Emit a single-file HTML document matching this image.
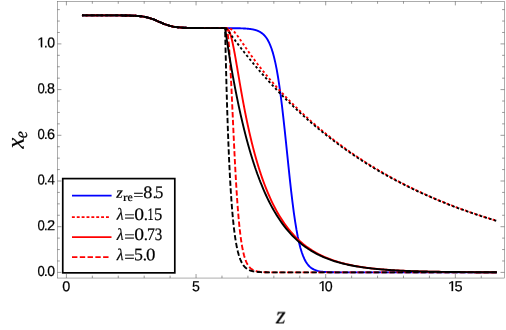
<!DOCTYPE html>
<html><head><meta charset="utf-8"><title>xe(z)</title>
<style>
html,body{margin:0;padding:0;background:#fff;}
body{width:506px;height:330px;overflow:hidden;font-family:"Liberation Sans",sans-serif;}
svg{display:block;}
text{fill:#000;text-rendering:geometricPrecision;}
</style></head><body>
<svg width="506" height="330" viewBox="0 0 506 330">
<defs><clipPath id="c1"><rect x="-2" y="-20" width="20" height="18.6"/><rect x="3.47" y="-2" width="1.64" height="2.2"/></clipPath><clipPath id="cr"><rect x="225" y="0" width="281" height="330"/></clipPath></defs>
<rect width="506" height="330" fill="#fff"/>
<rect x="57.4" y="1.35" width="447.10" height="276.70" fill="none" stroke="#6a6a6a" stroke-width="0.55"/>
<path d="M66.40,278.05v-4.0M66.40,1.35v4.0M92.33,278.05v-2.4M92.33,1.35v2.4M118.26,278.05v-2.4M118.26,1.35v2.4M144.19,278.05v-2.4M144.19,1.35v2.4M170.12,278.05v-2.4M170.12,1.35v2.4M196.05,278.05v-4.0M196.05,1.35v4.0M221.98,278.05v-2.4M221.98,1.35v2.4M247.91,278.05v-2.4M247.91,1.35v2.4M273.84,278.05v-2.4M273.84,1.35v2.4M299.77,278.05v-2.4M299.77,1.35v2.4M325.70,278.05v-4.0M325.70,1.35v4.0M351.63,278.05v-2.4M351.63,1.35v2.4M377.56,278.05v-2.4M377.56,1.35v2.4M403.49,278.05v-2.4M403.49,1.35v2.4M429.42,278.05v-2.4M429.42,1.35v2.4M455.35,278.05v-4.0M455.35,1.35v4.0M481.28,278.05v-2.4M481.28,1.35v2.4M57.4,272.40h4.0M504.5,272.40h-4.0M57.4,260.97h2.4M504.5,260.97h-2.4M57.4,249.55h2.4M504.5,249.55h-2.4M57.4,238.12h2.4M504.5,238.12h-2.4M57.4,226.70h4.0M504.5,226.70h-4.0M57.4,215.27h2.4M504.5,215.27h-2.4M57.4,203.85h2.4M504.5,203.85h-2.4M57.4,192.42h2.4M504.5,192.42h-2.4M57.4,181.00h4.0M504.5,181.00h-4.0M57.4,169.57h2.4M504.5,169.57h-2.4M57.4,158.15h2.4M504.5,158.15h-2.4M57.4,146.72h2.4M504.5,146.72h-2.4M57.4,135.30h4.0M504.5,135.30h-4.0M57.4,123.87h2.4M504.5,123.87h-2.4M57.4,112.45h2.4M504.5,112.45h-2.4M57.4,101.02h2.4M504.5,101.02h-2.4M57.4,89.60h4.0M504.5,89.60h-4.0M57.4,78.17h2.4M504.5,78.17h-2.4M57.4,66.75h2.4M504.5,66.75h-2.4M57.4,55.32h2.4M504.5,55.32h-2.4M57.4,43.90h4.0M504.5,43.90h-4.0M57.4,32.47h2.4M504.5,32.47h-2.4M57.4,21.05h2.4M504.5,21.05h-2.4M57.4,9.62h2.4M504.5,9.62h-2.4" fill="none" stroke="#555" stroke-width="0.6"/>
<path d="M81.96,15.35L83.53,15.35L85.10,15.35L86.68,15.35L88.25,15.35L89.82,15.35L91.40,15.35L92.97,15.35L94.54,15.35L96.12,15.35L97.69,15.35L99.26,15.35L100.84,15.35L102.41,15.35L103.98,15.36L105.56,15.36L107.13,15.36L108.70,15.36L110.28,15.36L111.85,15.37L113.42,15.37L115.00,15.38L116.57,15.38L118.14,15.39L119.72,15.40L121.29,15.41L122.86,15.43L124.44,15.45L126.01,15.47L127.58,15.50L129.16,15.54L130.73,15.59L132.30,15.65L133.88,15.72L135.45,15.80L137.02,15.91L138.60,16.04L140.17,16.20L141.74,16.40L143.32,16.63L144.89,16.90L146.46,17.23L148.04,17.61L149.61,18.05L151.18,18.55L152.76,19.11L154.33,19.72L155.90,20.37L157.48,21.06L159.05,21.76L160.62,22.46L162.20,23.14L163.77,23.79L165.34,24.40L166.92,24.95L168.49,25.44L170.06,25.88L171.64,26.25L173.21,26.58L174.78,26.85L176.35,27.08L177.93,27.27L179.50,27.42L181.07,27.55L182.65,27.66L184.22,27.74L185.79,27.81L187.37,27.87L188.94,27.91L190.51,27.95L192.09,27.98L193.66,28.00L195.23,28.02L196.81,28.04L198.38,28.05L199.95,28.06L201.53,28.07L203.10,28.08L204.67,28.08L206.25,28.09L207.82,28.09L209.39,28.09L210.97,28.10L212.54,28.10L214.11,28.10L215.69,28.10L217.26,28.11L218.83,28.11L220.41,28.11L221.98,28.11L222.16,28.12L222.34,28.12L222.51,28.12L222.69,28.12L222.87,28.12L223.05,28.12L223.22,28.12L223.40,28.12L223.58,28.12L223.76,28.12L223.93,28.12L224.11,28.12L224.29,28.12L224.47,28.12L224.64,28.12L224.82,28.12L225.00,28.12L225.18,28.12L225.35,28.13L225.53,28.13L225.71,28.13L225.89,28.13L226.06,28.13L226.24,28.13L226.42,28.13L226.60,28.13L226.78,28.13L226.95,28.13L227.13,28.13L227.31,28.13L227.49,28.13L227.66,28.14L227.84,28.14L228.02,28.14L228.20,28.14L228.37,28.14L228.55,28.14L228.73,28.14L228.91,28.14L229.08,28.14L229.26,28.14L229.44,28.15L229.62,28.15L229.79,28.15L229.97,28.15L230.15,28.15L230.33,28.15L230.50,28.15L230.68,28.15L230.86,28.16L231.04,28.16L231.22,28.16L231.39,28.16L231.57,28.16L231.75,28.16L231.93,28.17L232.10,28.17L232.28,28.17L232.46,28.17L232.64,28.17L232.81,28.17L232.99,28.18L233.17,28.18L233.35,28.18L233.52,28.18L233.70,28.18L233.88,28.19L234.06,28.19L234.23,28.19L234.41,28.19L234.59,28.20L234.77,28.20L234.94,28.20L235.12,28.20L235.30,28.21L235.48,28.21L235.66,28.21L235.83,28.21L236.01,28.22L236.19,28.22L236.37,28.22L236.54,28.23L236.72,28.23L236.90,28.23L237.08,28.24L237.25,28.24L237.43,28.24L237.61,28.25L237.79,28.25L237.96,28.25L238.14,28.26L238.32,28.26L238.50,28.27L238.67,28.27L238.85,28.27L239.03,28.28L239.21,28.28L239.39,28.29L239.56,28.29L239.74,28.30L239.92,28.30L240.10,28.31L240.27,28.31L240.45,28.32L240.63,28.33L240.81,28.33L240.98,28.34L241.16,28.34L241.34,28.35L241.52,28.36L241.69,28.36L241.87,28.37L242.05,28.38L242.23,28.38L242.40,28.39L242.58,28.40L242.76,28.41L242.94,28.41L243.11,28.42L243.29,28.43L243.47,28.44L243.65,28.45L243.83,28.46L244.00,28.47L244.18,28.48L244.36,28.49L244.54,28.50L244.71,28.51L244.89,28.52L245.07,28.53L245.25,28.54L245.42,28.55L245.60,28.56L245.78,28.57L245.96,28.59L246.13,28.60L246.31,28.61L246.49,28.62L246.67,28.64L246.84,28.65L247.02,28.67L247.20,28.68L247.38,28.70L247.55,28.71L247.73,28.73L247.91,28.74L248.09,28.76L248.27,28.78L248.44,28.80L248.62,28.82L248.80,28.83L248.98,28.85L249.15,28.87L249.33,28.89L249.51,28.91L249.69,28.94L249.86,28.96L250.04,28.98L250.22,29.00L250.40,29.03L250.57,29.05L250.75,29.08L250.93,29.10L251.11,29.13L251.28,29.16L251.46,29.18L251.64,29.21L251.82,29.24L251.99,29.27L252.17,29.30L252.35,29.33L252.53,29.37L252.71,29.40L252.88,29.43L253.06,29.47L253.24,29.51L253.42,29.54L253.59,29.58L253.77,29.62L253.95,29.66L254.13,29.70L254.30,29.74L254.48,29.79L254.66,29.83L254.84,29.88L255.01,29.93L255.19,29.97L255.37,30.02L255.55,30.07L255.72,30.13L255.90,30.18L256.08,30.24L256.26,30.29L256.43,30.35L256.61,30.41L256.79,30.47L256.97,30.54L257.15,30.60L257.32,30.67L257.50,30.73L257.68,30.80L257.86,30.88L258.03,30.95L258.21,31.03L258.39,31.10L258.57,31.18L258.74,31.27L258.92,31.35L259.10,31.44L259.28,31.52L259.45,31.62L259.63,31.71L259.81,31.81L259.99,31.90L260.16,32.01L260.34,32.11L260.52,32.22L260.70,32.33L260.88,32.44L262.19,33.37L263.51,34.50L264.83,35.87L266.15,37.53L267.47,39.53L268.78,41.94L270.10,44.82L271.42,48.27L272.74,52.37L274.06,57.20L275.38,62.86L276.69,69.43L278.01,76.98L279.33,85.54L280.65,95.11L281.97,105.65L283.28,117.04L284.60,129.13L285.92,141.69L287.24,154.47L288.56,167.20L289.88,179.59L291.19,191.40L292.51,202.43L293.83,212.54L295.15,221.63L296.47,229.68L297.79,236.71L299.10,242.76L300.42,247.93L301.74,252.28L303.06,255.93L304.38,258.96L305.69,261.47L307.01,263.53L308.33,265.22L309.65,266.60L310.97,267.72L312.29,268.63L313.60,269.37L314.92,269.96L316.24,270.44L317.56,270.83L318.88,271.14L320.20,271.39L321.51,271.59L322.83,271.75L324.15,271.88L325.47,271.99L326.79,272.07L328.10,272.14L329.42,272.19L330.74,272.23L332.06,272.27L333.38,272.29L334.70,272.32L336.01,272.33L337.33,272.35L338.65,272.36L339.97,272.37L341.29,272.37L342.61,272.38L343.92,272.38L345.24,272.39L346.56,272.39L347.88,272.39L349.20,272.39L350.51,272.39L351.83,272.40L353.15,272.40L354.47,272.40L355.79,272.40L357.11,272.40L358.42,272.40L359.74,272.40L361.06,272.40L362.38,272.40L363.70,272.40L365.02,272.40L366.33,272.40L367.65,272.40L368.97,272.40L370.29,272.40L371.61,272.40L372.92,272.40L374.24,272.40L375.56,272.40L376.88,272.40L378.20,272.40L379.52,272.40L380.83,272.40L382.15,272.40L383.47,272.40L384.79,272.40L386.11,272.40L387.42,272.40L388.74,272.40L390.06,272.40L391.38,272.40L392.70,272.40L394.02,272.40L395.33,272.40L396.65,272.40L397.97,272.40L399.29,272.40L400.61,272.40L401.93,272.40L403.24,272.40L404.56,272.40L405.88,272.40L407.20,272.40L408.52,272.40L409.83,272.40L411.15,272.40L412.47,272.40L413.79,272.40L415.11,272.40L416.43,272.40L417.74,272.40L419.06,272.40L420.38,272.40L421.70,272.40L423.02,272.40L424.34,272.40L425.65,272.40L426.97,272.40L428.29,272.40L429.61,272.40L430.93,272.40L432.24,272.40L433.56,272.40L434.88,272.40L436.20,272.40L437.52,272.40L438.84,272.40L440.15,272.40L441.47,272.40L442.79,272.40L444.11,272.40L445.43,272.40L446.75,272.40L448.06,272.40L449.38,272.40L450.70,272.40L452.02,272.40L453.34,272.40L454.65,272.40L455.97,272.40L457.29,272.40L458.61,272.40L459.93,272.40L461.25,272.40L462.56,272.40L463.88,272.40L465.20,272.40L466.52,272.40L467.84,272.40L469.16,272.40L470.47,272.40L471.79,272.40L473.11,272.40L474.43,272.40L475.75,272.40L477.06,272.40L478.38,272.40L479.70,272.40L481.02,272.40L482.34,272.40L483.66,272.40L484.97,272.40L486.29,272.40L487.61,272.40L488.93,272.40L490.25,272.40L491.57,272.40L492.88,272.40L494.20,272.40L495.52,272.40L496.84,272.40" fill="none" stroke="#0000ff" stroke-width="1.9" stroke-linejoin="round"/>
<path d="M81.96,15.35L83.53,15.35L85.10,15.35L86.68,15.35L88.25,15.35L89.82,15.35L91.40,15.35L92.97,15.35L94.54,15.35L96.12,15.35L97.69,15.35L99.26,15.35L100.84,15.35L102.41,15.35L103.98,15.36L105.56,15.36L107.13,15.36L108.70,15.36L110.28,15.36L111.85,15.37L113.42,15.37L115.00,15.38L116.57,15.38L118.14,15.39L119.72,15.40L121.29,15.41L122.86,15.43L124.44,15.45L126.01,15.47L127.58,15.50L129.16,15.54L130.73,15.59L132.30,15.65L133.88,15.72L135.45,15.80L137.02,15.91L138.60,16.04L140.17,16.20L141.74,16.40L143.32,16.63L144.89,16.90L146.46,17.23L148.04,17.61L149.61,18.05L151.18,18.55L152.76,19.11L154.33,19.72L155.90,20.37L157.48,21.06L159.05,21.76L160.62,22.46L162.20,23.14L163.77,23.79L165.34,24.40L166.92,24.95L168.49,25.44L170.06,25.88L171.64,26.25L173.21,26.58L174.78,26.85L176.35,27.08L177.93,27.27L179.50,27.42L181.07,27.55L182.65,27.66L184.22,27.74L185.79,27.81L187.37,27.87L188.94,27.91L190.51,27.95L192.09,27.98L193.66,28.00L195.23,28.02L196.81,28.04L198.38,28.05L199.95,28.06L201.53,28.07L203.10,28.07L204.67,28.08L206.25,28.08L207.82,28.09L209.39,28.09L210.97,28.09L212.54,28.09L214.11,28.09L215.69,28.10L217.26,28.10L218.83,28.10L220.41,28.10L221.98,28.10L222.16,28.10L222.34,28.10L222.51,28.10L222.69,28.10L222.87,28.10L223.05,28.10L223.22,28.10L223.40,28.10L223.58,28.10L223.76,28.10L223.93,28.10L224.11,28.10L224.29,28.10L224.47,28.10L224.64,28.10L224.82,28.10L225.00,28.10L225.18,28.10L225.35,28.10L225.53,28.10L225.71,28.10L225.89,28.10L226.06,28.10L226.24,28.10L226.42,28.10L226.60,28.10L226.78,28.10L226.95,28.10L227.13,28.11L227.31,28.12L227.49,28.12L227.66,28.14L227.84,28.15L228.02,28.17L228.20,28.19L228.37,28.21L228.55,28.24L228.73,28.27L228.91,28.31L229.08,28.35L229.26,28.40L229.44,28.45L229.62,28.51L229.79,28.57L229.97,28.63L230.15,28.71L230.33,28.78L230.50,28.87L230.68,28.95L230.86,29.05L231.04,29.15L231.22,29.25L231.39,29.36L231.57,29.48L231.75,29.60L231.93,29.72L232.10,29.85L232.28,29.99L232.46,30.13L232.64,30.28L232.81,30.43L232.99,30.59L233.17,30.75L233.35,30.92L233.52,31.09L233.70,31.26L233.88,31.44L234.06,31.62L234.23,31.81L234.41,32.00L234.59,32.20L234.77,32.40L234.94,32.60L235.12,32.80L235.30,33.01L235.48,33.22L235.66,33.44L235.83,33.65L236.01,33.87L236.19,34.10L236.37,34.32L236.54,34.55L236.72,34.78L236.90,35.01L237.08,35.25L237.25,35.48L237.43,35.72L237.61,35.96L237.79,36.20L237.96,36.44L238.14,36.69L238.32,36.93L238.50,37.18L238.67,37.43L238.85,37.68L239.03,37.93L239.21,38.18L239.39,38.43L239.56,38.68L239.74,38.94L239.92,39.19L240.10,39.45L240.27,39.71L240.45,39.96L240.63,40.22L240.81,40.48L240.98,40.74L241.16,40.99L241.34,41.25L241.52,41.51L241.69,41.77L241.87,42.03L242.05,42.29L242.23,42.55L242.40,42.81L242.58,43.07L242.76,43.33L242.94,43.59L243.11,43.86L243.29,44.12L243.47,44.38L243.65,44.64L243.83,44.90L244.00,45.16L244.18,45.42L244.36,45.68L244.54,45.94L244.71,46.20L244.89,46.46L245.07,46.72L245.25,46.98L245.42,47.23L245.60,47.49L245.78,47.75L245.96,48.01L246.13,48.27L246.31,48.52L246.49,48.78L246.67,49.04L246.84,49.30L247.02,49.55L247.20,49.81L247.38,50.06L247.55,50.32L247.73,50.57L247.91,50.83L248.09,51.08L248.27,51.34L248.44,51.59L248.62,51.84L248.80,52.10L248.98,52.35L249.15,52.60L249.33,52.85L249.51,53.10L249.69,53.35L249.86,53.60L250.04,53.85L250.22,54.10L250.40,54.35L250.57,54.60L250.75,54.85L250.93,55.10L251.11,55.34L251.28,55.59L251.46,55.84L251.64,56.08L251.82,56.33L251.99,56.57L252.17,56.82L252.35,57.06L252.53,57.31L252.71,57.55L252.88,57.79L253.06,58.04L253.24,58.28L253.42,58.52L253.59,58.76L253.77,59.00L253.95,59.24L254.13,59.49L254.30,59.73L254.48,59.96L254.66,60.20L254.84,60.44L255.01,60.68L255.19,60.92L255.37,61.16L255.55,61.39L255.72,61.63L255.90,61.87L256.08,62.10L256.26,62.34L256.43,62.57L256.61,62.81L256.79,63.04L256.97,63.27L257.15,63.51L257.32,63.74L257.50,63.97L257.68,64.21L257.86,64.44L258.03,64.67L258.21,64.90L258.39,65.13L258.57,65.36L258.74,65.59L258.92,65.82L259.10,66.05L259.28,66.28L259.45,66.51L259.63,66.74L259.81,66.96L259.99,67.19L260.16,67.42L260.34,67.64L260.52,67.87L260.70,68.10L260.88,68.32L262.19,69.98L263.51,71.63L264.83,73.25L266.15,74.86L267.47,76.44L268.78,78.01L270.10,79.57L271.42,81.10L272.74,82.63L274.06,84.13L275.38,85.62L276.69,87.10L278.01,88.56L279.33,90.01L280.65,91.44L281.97,92.86L283.28,94.27L284.60,95.66L285.92,97.04L287.24,98.41L288.56,99.77L289.88,101.11L291.19,102.44L292.51,103.76L293.83,105.07L295.15,106.37L296.47,107.66L297.79,108.93L299.10,110.20L300.42,111.45L301.74,112.69L303.06,113.93L304.38,115.15L305.69,116.36L307.01,117.56L308.33,118.76L309.65,119.94L310.97,121.11L312.29,122.27L313.60,123.43L314.92,124.57L316.24,125.71L317.56,126.83L318.88,127.95L320.20,129.06L321.51,130.15L322.83,131.24L324.15,132.33L325.47,133.40L326.79,134.46L328.10,135.52L329.42,136.56L330.74,137.60L332.06,138.63L333.38,139.66L334.70,140.67L336.01,141.68L337.33,142.67L338.65,143.66L339.97,144.65L341.29,145.62L342.61,146.59L343.92,147.55L345.24,148.50L346.56,149.45L347.88,150.38L349.20,151.31L350.51,152.24L351.83,153.15L353.15,154.06L354.47,154.96L355.79,155.86L357.11,156.74L358.42,157.62L359.74,158.50L361.06,159.36L362.38,160.23L363.70,161.08L365.02,161.93L366.33,162.77L367.65,163.60L368.97,164.43L370.29,165.25L371.61,166.06L372.92,166.87L374.24,167.67L375.56,168.47L376.88,169.26L378.20,170.04L379.52,170.82L380.83,171.59L382.15,172.36L383.47,173.12L384.79,173.87L386.11,174.62L387.42,175.36L388.74,176.10L390.06,176.83L391.38,177.56L392.70,178.28L394.02,178.99L395.33,179.70L396.65,180.41L397.97,181.10L399.29,181.80L400.61,182.48L401.93,183.17L403.24,183.84L404.56,184.52L405.88,185.18L407.20,185.84L408.52,186.50L409.83,187.15L411.15,187.80L412.47,188.44L413.79,189.08L415.11,189.71L416.43,190.34L417.74,190.96L419.06,191.58L420.38,192.19L421.70,192.80L423.02,193.40L424.34,194.00L425.65,194.60L426.97,195.18L428.29,195.77L429.61,196.35L430.93,196.93L432.24,197.50L433.56,198.07L434.88,198.63L436.20,199.19L437.52,199.74L438.84,200.30L440.15,200.84L441.47,201.38L442.79,201.92L444.11,202.46L445.43,202.99L446.75,203.51L448.06,204.03L449.38,204.55L450.70,205.07L452.02,205.58L453.34,206.08L454.65,206.59L455.97,207.08L457.29,207.58L458.61,208.07L459.93,208.56L461.25,209.04L462.56,209.52L463.88,210.00L465.20,210.47L466.52,210.94L467.84,211.40L469.16,211.87L470.47,212.32L471.79,212.78L473.11,213.23L474.43,213.68L475.75,214.12L477.06,214.56L478.38,215.00L479.70,215.44L481.02,215.87L482.34,216.30L483.66,216.72L484.97,217.14L486.29,217.56L487.61,217.98L488.93,218.39L490.25,218.80L491.57,219.20L492.88,219.61L494.20,220.01L495.52,220.40L496.84,220.80" fill="none" stroke="#ff0000" stroke-width="1.9" stroke-dasharray="2.5 2.377" stroke-dashoffset="1.22" stroke-linejoin="round"/>
<path d="M81.96,15.35L83.53,15.35L85.10,15.35L86.68,15.35L88.25,15.35L89.82,15.35L91.40,15.35L92.97,15.35L94.54,15.35L96.12,15.35L97.69,15.35L99.26,15.35L100.84,15.35L102.41,15.35L103.98,15.36L105.56,15.36L107.13,15.36L108.70,15.36L110.28,15.36L111.85,15.37L113.42,15.37L115.00,15.38L116.57,15.38L118.14,15.39L119.72,15.40L121.29,15.41L122.86,15.43L124.44,15.45L126.01,15.47L127.58,15.50L129.16,15.54L130.73,15.59L132.30,15.65L133.88,15.72L135.45,15.80L137.02,15.91L138.60,16.04L140.17,16.20L141.74,16.40L143.32,16.63L144.89,16.90L146.46,17.23L148.04,17.61L149.61,18.05L151.18,18.55L152.76,19.11L154.33,19.72L155.90,20.37L157.48,21.06L159.05,21.76L160.62,22.46L162.20,23.14L163.77,23.79L165.34,24.40L166.92,24.95L168.49,25.44L170.06,25.88L171.64,26.25L173.21,26.58L174.78,26.85L176.35,27.08L177.93,27.27L179.50,27.42L181.07,27.55L182.65,27.66L184.22,27.74L185.79,27.81L187.37,27.87L188.94,27.91L190.51,27.95L192.09,27.98L193.66,28.00L195.23,28.02L196.81,28.04L198.38,28.05L199.95,28.06L201.53,28.07L203.10,28.07L204.67,28.08L206.25,28.08L207.82,28.09L209.39,28.09L210.97,28.09L212.54,28.09L214.11,28.09L215.69,28.10L217.26,28.10L218.83,28.10L220.41,28.10L221.98,28.10L222.16,28.10L222.34,28.10L222.51,28.10L222.69,28.10L222.87,28.10L223.05,28.10L223.22,28.10L223.40,28.10L223.58,28.10L223.76,28.10L223.93,28.10L224.11,28.10L224.29,28.10L224.47,28.10L224.64,28.10L224.82,28.10L225.00,28.10L225.18,28.10L225.35,28.10L225.53,28.10L225.71,28.11L225.89,28.12L226.06,28.15L226.24,28.18L226.42,28.22L226.60,28.27L226.78,28.34L226.95,28.42L227.13,28.52L227.31,28.64L227.49,28.77L227.66,28.93L227.84,29.10L228.02,29.30L228.20,29.52L228.37,29.77L228.55,30.04L228.73,30.33L228.91,30.65L229.08,30.99L229.26,31.36L229.44,31.76L229.62,32.18L229.79,32.63L229.97,33.10L230.15,33.60L230.33,34.12L230.50,34.67L230.68,35.25L230.86,35.84L231.04,36.47L231.22,37.11L231.39,37.78L231.57,38.47L231.75,39.19L231.93,39.92L232.10,40.68L232.28,41.45L232.46,42.24L232.64,43.05L232.81,43.88L232.99,44.73L233.17,45.59L233.35,46.47L233.52,47.36L233.70,48.26L233.88,49.18L234.06,50.11L234.23,51.05L234.41,52.01L234.59,52.97L234.77,53.94L234.94,54.92L235.12,55.91L235.30,56.91L235.48,57.91L235.66,58.92L235.83,59.94L236.01,60.96L236.19,61.99L236.37,63.02L236.54,64.05L236.72,65.09L236.90,66.13L237.08,67.17L237.25,68.21L237.43,69.26L237.61,70.30L237.79,71.35L237.96,72.39L238.14,73.44L238.32,74.49L238.50,75.53L238.67,76.58L238.85,77.62L239.03,78.66L239.21,79.70L239.39,80.74L239.56,81.78L239.74,82.81L239.92,83.84L240.10,84.87L240.27,85.89L240.45,86.91L240.63,87.93L240.81,88.94L240.98,89.96L241.16,90.96L241.34,91.97L241.52,92.96L241.69,93.96L241.87,94.95L242.05,95.94L242.23,96.92L242.40,97.90L242.58,98.87L242.76,99.84L242.94,100.80L243.11,101.76L243.29,102.72L243.47,103.66L243.65,104.61L243.83,105.55L244.00,106.48L244.18,107.41L244.36,108.34L244.54,109.26L244.71,110.17L244.89,111.08L245.07,111.99L245.25,112.89L245.42,113.78L245.60,114.67L245.78,115.56L245.96,116.44L246.13,117.31L246.31,118.18L246.49,119.04L246.67,119.90L246.84,120.76L247.02,121.61L247.20,122.45L247.38,123.29L247.55,124.13L247.73,124.95L247.91,125.78L248.09,126.60L248.27,127.41L248.44,128.22L248.62,129.03L248.80,129.83L248.98,130.62L249.15,131.41L249.33,132.20L249.51,132.98L249.69,133.75L249.86,134.52L250.04,135.29L250.22,136.05L250.40,136.81L250.57,137.56L250.75,138.31L250.93,139.05L251.11,139.79L251.28,140.53L251.46,141.26L251.64,141.98L251.82,142.70L251.99,143.42L252.17,144.13L252.35,144.84L252.53,145.54L252.71,146.24L252.88,146.94L253.06,147.63L253.24,148.31L253.42,149.00L253.59,149.67L253.77,150.35L253.95,151.02L254.13,151.68L254.30,152.34L254.48,153.00L254.66,153.66L254.84,154.31L255.01,154.95L255.19,155.59L255.37,156.23L255.55,156.87L255.72,157.50L255.90,158.12L256.08,158.75L256.26,159.37L256.43,159.98L256.61,160.59L256.79,161.20L256.97,161.80L257.15,162.40L257.32,163.00L257.50,163.60L257.68,164.19L257.86,164.77L258.03,165.35L258.21,165.93L258.39,166.51L258.57,167.08L258.74,167.65L258.92,168.22L259.10,168.78L259.28,169.34L259.45,169.90L259.63,170.45L259.81,171.00L259.99,171.54L260.16,172.09L260.34,172.63L260.52,173.16L260.70,173.70L260.88,174.23L262.19,178.07L263.51,181.74L264.83,185.27L266.15,188.64L267.47,191.88L268.78,194.98L270.10,197.95L271.42,200.81L272.74,203.55L274.06,206.17L275.38,208.70L276.69,211.12L278.01,213.44L279.33,215.68L280.65,217.82L281.97,219.88L283.28,221.86L284.60,223.77L285.92,225.60L287.24,227.36L288.56,229.05L289.88,230.67L291.19,232.24L292.51,233.74L293.83,235.18L295.15,236.57L296.47,237.91L297.79,239.20L299.10,240.43L300.42,241.62L301.74,242.77L303.06,243.87L304.38,244.93L305.69,245.95L307.01,246.93L308.33,247.88L309.65,248.79L310.97,249.66L312.29,250.50L313.60,251.31L314.92,252.09L316.24,252.85L317.56,253.57L318.88,254.27L320.20,254.94L321.51,255.58L322.83,256.20L324.15,256.80L325.47,257.37L326.79,257.93L328.10,258.46L329.42,258.98L330.74,259.47L332.06,259.95L333.38,260.41L334.70,260.85L336.01,261.27L337.33,261.68L338.65,262.08L339.97,262.46L341.29,262.82L342.61,263.17L343.92,263.51L345.24,263.84L346.56,264.15L347.88,264.46L349.20,264.75L350.51,265.03L351.83,265.30L353.15,265.56L354.47,265.81L355.79,266.05L357.11,266.29L358.42,266.51L359.74,266.73L361.06,266.94L362.38,267.14L363.70,267.33L365.02,267.52L366.33,267.69L367.65,267.87L368.97,268.03L370.29,268.19L371.61,268.35L372.92,268.50L374.24,268.64L375.56,268.78L376.88,268.91L378.20,269.04L379.52,269.16L380.83,269.28L382.15,269.39L383.47,269.50L384.79,269.61L386.11,269.71L387.42,269.81L388.74,269.91L390.06,270.00L391.38,270.08L392.70,270.17L394.02,270.25L395.33,270.33L396.65,270.41L397.97,270.48L399.29,270.55L400.61,270.62L401.93,270.68L403.24,270.74L404.56,270.81L405.88,270.86L407.20,270.92L408.52,270.97L409.83,271.03L411.15,271.08L412.47,271.12L413.79,271.17L415.11,271.22L416.43,271.26L417.74,271.30L419.06,271.34L420.38,271.38L421.70,271.42L423.02,271.45L424.34,271.49L425.65,271.52L426.97,271.55L428.29,271.58L429.61,271.61L430.93,271.64L432.24,271.67L433.56,271.70L434.88,271.72L436.20,271.75L437.52,271.77L438.84,271.79L440.15,271.82L441.47,271.84L442.79,271.86L444.11,271.88L445.43,271.90L446.75,271.92L448.06,271.93L449.38,271.95L450.70,271.97L452.02,271.98L453.34,272.00L454.65,272.01L455.97,272.03L457.29,272.04L458.61,272.05L459.93,272.07L461.25,272.08L462.56,272.09L463.88,272.10L465.20,272.11L466.52,272.12L467.84,272.13L469.16,272.14L470.47,272.15L471.79,272.16L473.11,272.17L474.43,272.18L475.75,272.19L477.06,272.19L478.38,272.20L479.70,272.21L481.02,272.22L482.34,272.22L483.66,272.23L484.97,272.24L486.29,272.24L487.61,272.25L488.93,272.25L490.25,272.26L491.57,272.26L492.88,272.27L494.20,272.27L495.52,272.28L496.84,272.28" fill="none" stroke="#ff0000" stroke-width="1.9" stroke-linejoin="round"/>
<path d="M81.96,15.35L83.53,15.35L85.10,15.35L86.68,15.35L88.25,15.35L89.82,15.35L91.40,15.35L92.97,15.35L94.54,15.35L96.12,15.35L97.69,15.35L99.26,15.35L100.84,15.35L102.41,15.35L103.98,15.36L105.56,15.36L107.13,15.36L108.70,15.36L110.28,15.36L111.85,15.37L113.42,15.37L115.00,15.38L116.57,15.38L118.14,15.39L119.72,15.40L121.29,15.41L122.86,15.43L124.44,15.45L126.01,15.47L127.58,15.50L129.16,15.54L130.73,15.59L132.30,15.65L133.88,15.72L135.45,15.80L137.02,15.91L138.60,16.04L140.17,16.20L141.74,16.40L143.32,16.63L144.89,16.90L146.46,17.23L148.04,17.61L149.61,18.05L151.18,18.55L152.76,19.11L154.33,19.72L155.90,20.37L157.48,21.06L159.05,21.76L160.62,22.46L162.20,23.14L163.77,23.79L165.34,24.40L166.92,24.95L168.49,25.44L170.06,25.88L171.64,26.25L173.21,26.58L174.78,26.85L176.35,27.08L177.93,27.27L179.50,27.42L181.07,27.55L182.65,27.66L184.22,27.74L185.79,27.81L187.37,27.87L188.94,27.91L190.51,27.95L192.09,27.98L193.66,28.00L195.23,28.02L196.81,28.04L198.38,28.05L199.95,28.06L201.53,28.07L203.10,28.07L204.67,28.08L206.25,28.08L207.82,28.09L209.39,28.09L210.97,28.09L212.54,28.09L214.11,28.09L215.69,28.10L217.26,28.10L218.83,28.10L220.41,28.10L221.98,28.10L222.16,28.10L222.34,28.10L222.51,28.10L222.69,28.10L222.87,28.10L223.05,28.10L223.22,28.10L223.40,28.10L223.58,28.10L223.76,28.10L223.93,28.10L224.11,28.10L224.29,28.10L224.47,28.10L224.64,28.10L224.82,28.10L225.00,28.10L225.18,28.10L225.35,28.11L225.53,28.13L225.71,28.18L225.89,28.27L226.06,28.42L226.24,28.63L226.42,28.91L226.60,29.27L226.78,29.73L226.95,30.29L227.13,30.96L227.31,31.75L227.49,32.67L227.66,33.71L227.84,34.90L228.02,36.22L228.20,37.69L228.37,39.30L228.55,41.06L228.73,42.97L228.91,45.03L229.08,47.24L229.26,49.59L229.44,52.08L229.62,54.71L229.79,57.47L229.97,60.36L230.15,63.37L230.33,66.49L230.50,69.72L230.68,73.05L230.86,76.47L231.04,79.98L231.22,83.56L231.39,87.21L231.57,90.91L231.75,94.67L231.93,98.46L232.10,102.29L232.28,106.15L232.46,110.02L232.64,113.90L232.81,117.78L232.99,121.66L233.17,125.53L233.35,129.37L233.52,133.19L233.70,136.98L233.88,140.74L234.06,144.45L234.23,148.12L234.41,151.74L234.59,155.30L234.77,158.81L234.94,162.26L235.12,165.65L235.30,168.97L235.48,172.22L235.66,175.41L235.83,178.53L236.01,181.58L236.19,184.55L236.37,187.45L236.54,190.28L236.72,193.04L236.90,195.73L237.08,198.34L237.25,200.88L237.43,203.35L237.61,205.75L237.79,208.08L237.96,210.34L238.14,212.53L238.32,214.65L238.50,216.71L238.67,218.70L238.85,220.63L239.03,222.50L239.21,224.30L239.39,226.05L239.56,227.74L239.74,229.37L239.92,230.95L240.10,232.47L240.27,233.94L240.45,235.36L240.63,236.73L240.81,238.05L240.98,239.33L241.16,240.56L241.34,241.74L241.52,242.89L241.69,243.99L241.87,245.05L242.05,246.08L242.23,247.06L242.40,248.02L242.58,248.93L242.76,249.81L242.94,250.66L243.11,251.48L243.29,252.27L243.47,253.03L243.65,253.76L243.83,254.46L244.00,255.14L244.18,255.79L244.36,256.42L244.54,257.02L244.71,257.61L244.89,258.16L245.07,258.70L245.25,259.22L245.42,259.72L245.60,260.20L245.78,260.66L245.96,261.10L246.13,261.53L246.31,261.94L246.49,262.33L246.67,262.71L246.84,263.08L247.02,263.43L247.20,263.77L247.38,264.10L247.55,264.41L247.73,264.71L247.91,265.00L248.09,265.28L248.27,265.55L248.44,265.80L248.62,266.05L248.80,266.29L248.98,266.52L249.15,266.74L249.33,266.95L249.51,267.16L249.69,267.35L249.86,267.54L250.04,267.73L250.22,267.90L250.40,268.07L250.57,268.23L250.75,268.39L250.93,268.54L251.11,268.68L251.28,268.82L251.46,268.95L251.64,269.08L251.82,269.21L251.99,269.32L252.17,269.44L252.35,269.55L252.53,269.65L252.71,269.76L252.88,269.85L253.06,269.95L253.24,270.04L253.42,270.13L253.59,270.21L253.77,270.29L253.95,270.37L254.13,270.45L254.30,270.52L254.48,270.59L254.66,270.65L254.84,270.72L255.01,270.78L255.19,270.84L255.37,270.90L255.55,270.95L255.72,271.01L255.90,271.06L256.08,271.11L256.26,271.15L256.43,271.20L256.61,271.24L256.79,271.29L256.97,271.33L257.15,271.37L257.32,271.40L257.50,271.44L257.68,271.48L257.86,271.51L258.03,271.54L258.21,271.57L258.39,271.60L258.57,271.63L258.74,271.66L258.92,271.69L259.10,271.71L259.28,271.74L259.45,271.76L259.63,271.79L259.81,271.81L259.99,271.83L260.16,271.85L260.34,271.87L260.52,271.89L260.70,271.91L260.88,271.93L262.19,272.04L263.51,272.13L264.83,272.19L266.15,272.24L267.47,272.28L268.78,272.31L270.10,272.33L271.42,272.35L272.74,272.36L274.06,272.37L275.38,272.38L276.69,272.38L278.01,272.39L279.33,272.39L280.65,272.39L281.97,272.39L283.28,272.39L284.60,272.40L285.92,272.40L287.24,272.40L288.56,272.40L289.88,272.40L291.19,272.40L292.51,272.40L293.83,272.40L295.15,272.40L296.47,272.40L297.79,272.40L299.10,272.40L300.42,272.40L301.74,272.40L303.06,272.40L304.38,272.40L305.69,272.40L307.01,272.40L308.33,272.40L309.65,272.40L310.97,272.40L312.29,272.40L313.60,272.40L314.92,272.40L316.24,272.40L317.56,272.40L318.88,272.40L320.20,272.40L321.51,272.40L322.83,272.40L324.15,272.40L325.47,272.40L326.79,272.40L328.10,272.40L329.42,272.40L330.74,272.40L332.06,272.40L333.38,272.40L334.70,272.40L336.01,272.40L337.33,272.40L338.65,272.40L339.97,272.40L341.29,272.40L342.61,272.40L343.92,272.40L345.24,272.40L346.56,272.40L347.88,272.40L349.20,272.40L350.51,272.40L351.83,272.40L353.15,272.40L354.47,272.40L355.79,272.40L357.11,272.40L358.42,272.40L359.74,272.40L361.06,272.40L362.38,272.40L363.70,272.40L365.02,272.40L366.33,272.40L367.65,272.40L368.97,272.40L370.29,272.40L371.61,272.40L372.92,272.40L374.24,272.40L375.56,272.40L376.88,272.40L378.20,272.40L379.52,272.40L380.83,272.40L382.15,272.40L383.47,272.40L384.79,272.40L386.11,272.40L387.42,272.40L388.74,272.40L390.06,272.40L391.38,272.40L392.70,272.40L394.02,272.40L395.33,272.40L396.65,272.40L397.97,272.40L399.29,272.40L400.61,272.40L401.93,272.40L403.24,272.40L404.56,272.40L405.88,272.40L407.20,272.40L408.52,272.40L409.83,272.40L411.15,272.40L412.47,272.40L413.79,272.40L415.11,272.40L416.43,272.40L417.74,272.40L419.06,272.40L420.38,272.40L421.70,272.40L423.02,272.40L424.34,272.40L425.65,272.40L426.97,272.40L428.29,272.40L429.61,272.40L430.93,272.40L432.24,272.40L433.56,272.40L434.88,272.40L436.20,272.40L437.52,272.40L438.84,272.40L440.15,272.40L441.47,272.40L442.79,272.40L444.11,272.40L445.43,272.40L446.75,272.40L448.06,272.40L449.38,272.40L450.70,272.40L452.02,272.40L453.34,272.40L454.65,272.40L455.97,272.40L457.29,272.40L458.61,272.40L459.93,272.40L461.25,272.40L462.56,272.40L463.88,272.40L465.20,272.40L466.52,272.40L467.84,272.40L469.16,272.40L470.47,272.40L471.79,272.40L473.11,272.40L474.43,272.40L475.75,272.40L477.06,272.40L478.38,272.40L479.70,272.40L481.02,272.40L482.34,272.40L483.66,272.40L484.97,272.40L486.29,272.40L487.61,272.40L488.93,272.40L490.25,272.40L491.57,272.40L492.88,272.40L494.20,272.40L495.52,272.40L496.84,272.40" fill="none" stroke="#ff0000" stroke-width="1.9" stroke-dasharray="5.4 2.43" stroke-dashoffset="4.78" stroke-linejoin="round"/>
<path d="M81.96,15.35L83.53,15.35L85.10,15.35L86.68,15.35L88.25,15.35L89.82,15.35L91.40,15.35L92.97,15.35L94.54,15.35L96.12,15.35L97.69,15.35L99.26,15.35L100.84,15.35L102.41,15.35L103.98,15.36L105.56,15.36L107.13,15.36L108.70,15.36L110.28,15.36L111.85,15.37L113.42,15.37L115.00,15.38L116.57,15.38L118.14,15.39L119.72,15.40L121.29,15.41L122.86,15.43L124.44,15.45L126.01,15.47L127.58,15.50L129.16,15.54L130.73,15.59L132.30,15.65L133.88,15.72L135.45,15.80L137.02,15.91L138.60,16.04L140.17,16.20L141.74,16.40L143.32,16.63L144.89,16.90L146.46,17.23L148.04,17.61L149.61,18.05L151.18,18.55L152.76,19.11L154.33,19.72L155.90,20.37L157.48,21.06L159.05,21.76L160.62,22.46L162.20,23.14L163.77,23.79L165.34,24.40L166.92,24.95L168.49,25.44L170.06,25.88L171.64,26.25L173.21,26.58L174.78,26.85L176.35,27.08L177.93,27.27L179.50,27.42L181.07,27.55L182.65,27.66L184.22,27.74L185.79,27.81L187.37,27.87L188.94,27.91L190.51,27.95L192.09,27.98L193.66,28.00L195.23,28.02L196.81,28.04L198.38,28.05L199.95,28.06L201.53,28.07L203.10,28.07L204.67,28.08L206.25,28.08L207.82,28.09L209.39,28.09L210.97,28.09L212.54,28.09L214.11,28.09L215.69,28.10L217.26,28.10L218.83,28.10L220.41,28.10L221.98,28.10L222.16,28.10L222.34,28.10L222.51,28.10L222.69,28.10L222.87,28.10L223.05,28.10L223.22,28.10L223.40,28.10L223.58,28.10L223.76,28.10L223.93,28.10L224.11,28.10L224.29,28.10L224.47,28.10L224.64,28.10L224.82,28.10L225.00,28.10L225.18,28.10L225.35,28.10L225.53,28.10L225.71,28.10L225.89,28.10L226.06,28.10L226.24,28.26L226.42,28.51L226.60,28.76L226.78,29.01L226.95,29.25L227.13,29.50L227.31,29.75L227.49,30.00L227.66,30.25L227.84,30.49L228.02,30.74L228.20,30.99L228.37,31.23L228.55,31.48L228.73,31.73L228.91,31.97L229.08,32.22L229.26,32.46L229.44,32.71L229.62,32.95L229.79,33.20L229.97,33.44L230.15,33.69L230.33,33.93L230.50,34.17L230.68,34.42L230.86,34.66L231.04,34.90L231.22,35.15L231.39,35.39L231.57,35.63L231.75,35.87L231.93,36.11L232.10,36.36L232.28,36.60L232.46,36.84L232.64,37.08L232.81,37.32L232.99,37.56L233.17,37.80L233.35,38.04L233.52,38.28L233.70,38.52L233.88,38.76L234.06,38.99L234.23,39.23L234.41,39.47L234.59,39.71L234.77,39.95L234.94,40.18L235.12,40.42L235.30,40.66L235.48,40.89L235.66,41.13L235.83,41.37L236.01,41.60L236.19,41.84L236.37,42.07L236.54,42.31L236.72,42.54L236.90,42.78L237.08,43.01L237.25,43.25L237.43,43.48L237.61,43.72L237.79,43.95L237.96,44.18L238.14,44.42L238.32,44.65L238.50,44.88L238.67,45.11L238.85,45.35L239.03,45.58L239.21,45.81L239.39,46.04L239.56,46.27L239.74,46.50L239.92,46.73L240.10,46.96L240.27,47.19L240.45,47.42L240.63,47.65L240.81,47.88L240.98,48.11L241.16,48.34L241.34,48.57L241.52,48.80L241.69,49.03L241.87,49.26L242.05,49.48L242.23,49.71L242.40,49.94L242.58,50.17L242.76,50.39L242.94,50.62L243.11,50.85L243.29,51.07L243.47,51.30L243.65,51.53L243.83,51.75L244.00,51.98L244.18,52.20L244.36,52.43L244.54,52.65L244.71,52.88L244.89,53.10L245.07,53.32L245.25,53.55L245.42,53.77L245.60,53.99L245.78,54.22L245.96,54.44L246.13,54.66L246.31,54.89L246.49,55.11L246.67,55.33L246.84,55.55L247.02,55.77L247.20,55.99L247.38,56.21L247.55,56.44L247.73,56.66L247.91,56.88L248.09,57.10L248.27,57.32L248.44,57.54L248.62,57.76L248.80,57.98L248.98,58.19L249.15,58.41L249.33,58.63L249.51,58.85L249.69,59.07L249.86,59.29L250.04,59.50L250.22,59.72L250.40,59.94L250.57,60.16L250.75,60.37L250.93,60.59L251.11,60.80L251.28,61.02L251.46,61.24L251.64,61.45L251.82,61.67L251.99,61.88L252.17,62.10L252.35,62.31L252.53,62.53L252.71,62.74L252.88,62.96L253.06,63.17L253.24,63.38L253.42,63.60L253.59,63.81L253.77,64.02L253.95,64.24L254.13,64.45L254.30,64.66L254.48,64.87L254.66,65.09L254.84,65.30L255.01,65.51L255.19,65.72L255.37,65.93L255.55,66.14L255.72,66.35L255.90,66.56L256.08,66.77L256.26,66.98L256.43,67.19L256.61,67.40L256.79,67.61L256.97,67.82L257.15,68.03L257.32,68.24L257.50,68.45L257.68,68.66L257.86,68.86L258.03,69.07L258.21,69.28L258.39,69.49L258.57,69.69L258.74,69.90L258.92,70.11L259.10,70.32L259.28,70.52L259.45,70.73L259.63,70.93L259.81,71.14L259.99,71.34L260.16,71.55L260.34,71.76L260.52,71.96L260.70,72.17L260.88,72.37L262.19,73.88L263.51,75.38L264.83,76.87L266.15,78.35L267.47,79.81L268.78,81.27L270.10,82.71L271.42,84.15L272.74,85.57L274.06,86.98L275.38,88.38L276.69,89.77L278.01,91.15L279.33,92.52L280.65,93.88L281.97,95.23L283.28,96.57L284.60,97.90L285.92,99.22L287.24,100.52L288.56,101.82L289.88,103.11L291.19,104.39L292.51,105.66L293.83,106.92L295.15,108.17L296.47,109.41L297.79,110.64L299.10,111.87L300.42,113.08L301.74,114.28L303.06,115.48L304.38,116.66L305.69,117.84L307.01,119.01L308.33,120.17L309.65,121.32L310.97,122.46L312.29,123.59L313.60,124.72L314.92,125.83L316.24,126.94L317.56,128.04L318.88,129.13L320.20,130.21L321.51,131.29L322.83,132.35L324.15,133.41L325.47,134.46L326.79,135.50L328.10,136.54L329.42,137.57L330.74,138.58L332.06,139.60L333.38,140.60L334.70,141.60L336.01,142.58L337.33,143.56L338.65,144.54L339.97,145.50L341.29,146.46L342.61,147.41L343.92,148.36L345.24,149.30L346.56,150.23L347.88,151.15L349.20,152.07L350.51,152.98L351.83,153.88L353.15,154.77L354.47,155.66L355.79,156.54L357.11,157.42L358.42,158.29L359.74,159.15L361.06,160.01L362.38,160.86L363.70,161.70L365.02,162.54L366.33,163.37L367.65,164.19L368.97,165.01L370.29,165.82L371.61,166.62L372.92,167.42L374.24,168.22L375.56,169.00L376.88,169.78L378.20,170.56L379.52,171.33L380.83,172.09L382.15,172.85L383.47,173.60L384.79,174.35L386.11,175.09L387.42,175.83L388.74,176.56L390.06,177.28L391.38,178.00L392.70,178.71L394.02,179.42L395.33,180.12L396.65,180.82L397.97,181.51L399.29,182.20L400.61,182.88L401.93,183.56L403.24,184.23L404.56,184.89L405.88,185.56L407.20,186.21L408.52,186.86L409.83,187.51L411.15,188.15L412.47,188.79L413.79,189.42L415.11,190.05L416.43,190.67L417.74,191.29L419.06,191.90L420.38,192.51L421.70,193.11L423.02,193.71L424.34,194.31L425.65,194.90L426.97,195.48L428.29,196.06L429.61,196.64L430.93,197.21L432.24,197.78L433.56,198.34L434.88,198.90L436.20,199.46L437.52,200.01L438.84,200.56L440.15,201.10L441.47,201.64L442.79,202.17L444.11,202.70L445.43,203.23L446.75,203.75L448.06,204.27L449.38,204.79L450.70,205.30L452.02,205.80L453.34,206.31L454.65,206.81L455.97,207.30L457.29,207.79L458.61,208.28L459.93,208.77L461.25,209.25L462.56,209.73L463.88,210.20L465.20,210.67L466.52,211.14L467.84,211.60L469.16,212.06L470.47,212.51L471.79,212.97L473.11,213.42L474.43,213.86L475.75,214.30L477.06,214.74L478.38,215.18L479.70,215.61L481.02,216.04L482.34,216.47L483.66,216.89L484.97,217.31L486.29,217.72L487.61,218.14L488.93,218.55L490.25,218.95L491.57,219.36L492.88,219.76L494.20,220.16L495.52,220.55L496.84,220.94" fill="none" stroke="#000000" stroke-width="1.9" stroke-dasharray="2.5 2.377" stroke-dashoffset="0.77" stroke-linejoin="round"/>
<path d="M81.96,15.35L83.53,15.35L85.10,15.35L86.68,15.35L88.25,15.35L89.82,15.35L91.40,15.35L92.97,15.35L94.54,15.35L96.12,15.35L97.69,15.35L99.26,15.35L100.84,15.35L102.41,15.35L103.98,15.36L105.56,15.36L107.13,15.36L108.70,15.36L110.28,15.36L111.85,15.37L113.42,15.37L115.00,15.38L116.57,15.38L118.14,15.39L119.72,15.40L121.29,15.41L122.86,15.43L124.44,15.45L126.01,15.47L127.58,15.50L129.16,15.54L130.73,15.59L132.30,15.65L133.88,15.72L135.45,15.80L137.02,15.91L138.60,16.04L140.17,16.20L141.74,16.40L143.32,16.63L144.89,16.90L146.46,17.23L148.04,17.61L149.61,18.05L151.18,18.55L152.76,19.11L154.33,19.72L155.90,20.37L157.48,21.06L159.05,21.76L160.62,22.46L162.20,23.14L163.77,23.79L165.34,24.40L166.92,24.95L168.49,25.44L170.06,25.88L171.64,26.25L173.21,26.58L174.78,26.85L176.35,27.08L177.93,27.27L179.50,27.42L181.07,27.55L182.65,27.66L184.22,27.74L185.79,27.81L187.37,27.87L188.94,27.91L190.51,27.95L192.09,27.98L193.66,28.00L195.23,28.02L196.81,28.04L198.38,28.05L199.95,28.06L201.53,28.07L203.10,28.07L204.67,28.08L206.25,28.08L207.82,28.09L209.39,28.09L210.97,28.09L212.54,28.09L214.11,28.09L215.69,28.10L217.26,28.10L218.83,28.10L220.41,28.10L221.98,28.10L222.16,28.10L222.34,28.10L222.51,28.10L222.69,28.10L222.87,28.10L223.05,28.10L223.22,28.10L223.40,28.10L223.58,28.10L223.76,28.10L223.93,28.10L224.11,28.10L224.29,28.10L224.47,28.10L224.64,28.10L224.82,28.10L225.00,28.10L225.18,28.68L225.35,29.90L225.53,31.11L225.71,32.31L225.89,33.51L226.06,34.70L226.24,35.89L226.42,37.07L226.60,38.24L226.78,39.41L226.95,40.57L227.13,41.73L227.31,42.88L227.49,44.02L227.66,45.16L227.84,46.29L228.02,47.42L228.20,48.54L228.37,49.66L228.55,50.77L228.73,51.88L228.91,52.98L229.08,54.07L229.26,55.16L229.44,56.24L229.62,57.32L229.79,58.39L229.97,59.46L230.15,60.52L230.33,61.58L230.50,62.63L230.68,63.68L230.86,64.72L231.04,65.76L231.22,66.79L231.39,67.81L231.57,68.83L231.75,69.85L231.93,70.86L232.10,71.86L232.28,72.86L232.46,73.86L232.64,74.85L232.81,75.83L232.99,76.81L233.17,77.79L233.35,78.76L233.52,79.73L233.70,80.69L233.88,81.64L234.06,82.59L234.23,83.54L234.41,84.48L234.59,85.42L234.77,86.35L234.94,87.28L235.12,88.20L235.30,89.12L235.48,90.04L235.66,90.95L235.83,91.85L236.01,92.75L236.19,93.65L236.37,94.54L236.54,95.43L236.72,96.31L236.90,97.19L237.08,98.06L237.25,98.93L237.43,99.80L237.61,100.66L237.79,101.51L237.96,102.37L238.14,103.21L238.32,104.06L238.50,104.90L238.67,105.73L238.85,106.56L239.03,107.39L239.21,108.21L239.39,109.03L239.56,109.85L239.74,110.66L239.92,111.47L240.10,112.27L240.27,113.07L240.45,113.86L240.63,114.65L240.81,115.44L240.98,116.22L241.16,117.00L241.34,117.78L241.52,118.55L241.69,119.31L241.87,120.08L242.05,120.84L242.23,121.59L242.40,122.35L242.58,123.09L242.76,123.84L242.94,124.58L243.11,125.32L243.29,126.05L243.47,126.78L243.65,127.51L243.83,128.23L244.00,128.95L244.18,129.66L244.36,130.38L244.54,131.08L244.71,131.79L244.89,132.49L245.07,133.19L245.25,133.88L245.42,134.57L245.60,135.26L245.78,135.94L245.96,136.63L246.13,137.30L246.31,137.98L246.49,138.65L246.67,139.31L246.84,139.98L247.02,140.64L247.20,141.30L247.38,141.95L247.55,142.60L247.73,143.25L247.91,143.89L248.09,144.53L248.27,145.17L248.44,145.80L248.62,146.44L248.80,147.06L248.98,147.69L249.15,148.31L249.33,148.93L249.51,149.55L249.69,150.16L249.86,150.77L250.04,151.37L250.22,151.98L250.40,152.58L250.57,153.18L250.75,153.77L250.93,154.36L251.11,154.95L251.28,155.54L251.46,156.12L251.64,156.70L251.82,157.28L251.99,157.85L252.17,158.42L252.35,158.99L252.53,159.56L252.71,160.12L252.88,160.68L253.06,161.24L253.24,161.79L253.42,162.34L253.59,162.89L253.77,163.44L253.95,163.98L254.13,164.52L254.30,165.06L254.48,165.60L254.66,166.13L254.84,166.66L255.01,167.19L255.19,167.71L255.37,168.23L255.55,168.75L255.72,169.27L255.90,169.78L256.08,170.30L256.26,170.80L256.43,171.31L256.61,171.82L256.79,172.32L256.97,172.82L257.15,173.31L257.32,173.81L257.50,174.30L257.68,174.79L257.86,175.28L258.03,175.76L258.21,176.24L258.39,176.72L258.57,177.20L258.74,177.67L258.92,178.15L259.10,178.62L259.28,179.08L259.45,179.55L259.63,180.01L259.81,180.47L259.99,180.93L260.16,181.39L260.34,181.84L260.52,182.29L260.70,182.74L260.88,183.19L262.19,186.44L263.51,189.57L264.83,192.59L266.15,195.50L267.47,198.30L268.78,201.00L270.10,203.60L271.42,206.11L272.74,208.52L274.06,210.85L275.38,213.09L276.69,215.25L278.01,217.33L279.33,219.34L280.65,221.27L281.97,223.14L283.28,224.93L284.60,226.66L285.92,228.33L287.24,229.93L288.56,231.48L289.88,232.97L291.19,234.41L292.51,235.79L293.83,237.12L295.15,238.41L296.47,239.65L297.79,240.84L299.10,241.99L300.42,243.10L301.74,244.17L303.06,245.19L304.38,246.19L305.69,247.14L307.01,248.06L308.33,248.95L309.65,249.80L310.97,250.63L312.29,251.42L313.60,252.18L314.92,252.92L316.24,253.63L317.56,254.31L318.88,254.97L320.20,255.61L321.51,256.22L322.83,256.81L324.15,257.38L325.47,257.92L326.79,258.45L328.10,258.96L329.42,259.45L330.74,259.92L332.06,260.38L333.38,260.81L334.70,261.24L336.01,261.64L337.33,262.03L338.65,262.41L339.97,262.78L341.29,263.13L342.61,263.46L343.92,263.79L345.24,264.10L346.56,264.41L347.88,264.70L349.20,264.98L350.51,265.25L351.83,265.51L353.15,265.76L354.47,266.00L355.79,266.23L357.11,266.46L358.42,266.68L359.74,266.88L361.06,267.09L362.38,267.28L363.70,267.47L365.02,267.65L366.33,267.82L367.65,267.99L368.97,268.15L370.29,268.30L371.61,268.45L372.92,268.59L374.24,268.73L375.56,268.87L376.88,269.00L378.20,269.12L379.52,269.24L380.83,269.35L382.15,269.46L383.47,269.57L384.79,269.67L386.11,269.77L387.42,269.87L388.74,269.96L390.06,270.05L391.38,270.14L392.70,270.22L394.02,270.30L395.33,270.37L396.65,270.45L397.97,270.52L399.29,270.59L400.61,270.65L401.93,270.72L403.24,270.78L404.56,270.84L405.88,270.90L407.20,270.95L408.52,271.00L409.83,271.05L411.15,271.10L412.47,271.15L413.79,271.20L415.11,271.24L416.43,271.28L417.74,271.32L419.06,271.36L420.38,271.40L421.70,271.44L423.02,271.47L424.34,271.50L425.65,271.54L426.97,271.57L428.29,271.60L429.61,271.63L430.93,271.66L432.24,271.68L433.56,271.71L434.88,271.73L436.20,271.76L437.52,271.78L438.84,271.80L440.15,271.83L441.47,271.85L442.79,271.87L444.11,271.89L445.43,271.91L446.75,271.92L448.06,271.94L449.38,271.96L450.70,271.97L452.02,271.99L453.34,272.00L454.65,272.02L455.97,272.03L457.29,272.05L458.61,272.06L459.93,272.07L461.25,272.08L462.56,272.09L463.88,272.11L465.20,272.12L466.52,272.13L467.84,272.14L469.16,272.15L470.47,272.16L471.79,272.16L473.11,272.17L474.43,272.18L475.75,272.19L477.06,272.20L478.38,272.20L479.70,272.21L481.02,272.22L482.34,272.23L483.66,272.23L484.97,272.24L486.29,272.24L487.61,272.25L488.93,272.25L490.25,272.26L491.57,272.27L492.88,272.27L494.20,272.27L495.52,272.28L496.84,272.28" fill="none" stroke="#000000" stroke-width="1.9" stroke-linejoin="round"/>
<path d="M81.96,15.35L83.53,15.35L85.10,15.35L86.68,15.35L88.25,15.35L89.82,15.35L91.40,15.35L92.97,15.35L94.54,15.35L96.12,15.35L97.69,15.35L99.26,15.35L100.84,15.35L102.41,15.35L103.98,15.36L105.56,15.36L107.13,15.36L108.70,15.36L110.28,15.36L111.85,15.37L113.42,15.37L115.00,15.38L116.57,15.38L118.14,15.39L119.72,15.40L121.29,15.41L122.86,15.43L124.44,15.45L126.01,15.47L127.58,15.50L129.16,15.54L130.73,15.59L132.30,15.65L133.88,15.72L135.45,15.80L137.02,15.91L138.60,16.04L140.17,16.20L141.74,16.40L143.32,16.63L144.89,16.90L146.46,17.23L148.04,17.61L149.61,18.05L151.18,18.55L152.76,19.11L154.33,19.72L155.90,20.37L157.48,21.06L159.05,21.76L160.62,22.46L162.20,23.14L163.77,23.79L165.34,24.40L166.92,24.95L168.49,25.44L170.06,25.88L171.64,26.25L173.21,26.58L174.78,26.85L176.35,27.08L177.93,27.27L179.50,27.42L181.07,27.55L182.65,27.66L184.22,27.74L185.79,27.81L187.37,27.87L188.94,27.91L190.51,27.95L192.09,27.98L193.66,28.00L195.23,28.02L196.81,28.04L198.38,28.05L199.95,28.06L201.53,28.07L203.10,28.07L204.67,28.08L206.25,28.08L207.82,28.09L209.39,28.09L210.97,28.09L212.54,28.09L214.11,28.09L215.69,28.10L217.26,28.10L218.83,28.10L220.41,28.10L221.98,28.10L222.16,28.10L222.34,28.10L222.51,28.10L222.69,28.10L222.87,28.10L223.05,28.10L223.22,28.10L223.40,28.10L223.58,28.10L223.76,28.10L223.93,28.10L224.11,28.10L224.29,28.10L224.47,28.10L224.64,28.10L224.82,28.10L225.00,28.10L225.18,32.08L225.35,40.17L225.53,47.99L225.71,55.55L225.89,62.85L226.06,69.90L226.24,76.72L226.42,83.31L226.60,89.67L226.78,95.83L226.95,101.77L227.13,107.51L227.31,113.07L227.49,118.43L227.66,123.61L227.84,128.62L228.02,133.46L228.20,138.14L228.37,142.66L228.55,147.03L228.73,151.25L228.91,155.33L229.08,159.27L229.26,163.08L229.44,166.76L229.62,170.32L229.79,173.75L229.97,177.07L230.15,180.28L230.33,183.38L230.50,186.38L230.68,189.28L230.86,192.08L231.04,194.78L231.22,197.39L231.39,199.92L231.57,202.36L231.75,204.72L231.93,207.00L232.10,209.20L232.28,211.32L232.46,213.38L232.64,215.37L232.81,217.29L232.99,219.14L233.17,220.94L233.35,222.67L233.52,224.34L233.70,225.96L233.88,227.52L234.06,229.04L234.23,230.50L234.41,231.91L234.59,233.27L234.77,234.59L234.94,235.86L235.12,237.09L235.30,238.28L235.48,239.43L235.66,240.54L235.83,241.61L236.01,242.65L236.19,243.65L236.37,244.62L236.54,245.55L236.72,246.46L236.90,247.33L237.08,248.17L237.25,248.99L237.43,249.78L237.61,250.54L237.79,251.27L237.96,251.99L238.14,252.67L238.32,253.34L238.50,253.98L238.67,254.60L238.85,255.20L239.03,255.78L239.21,256.34L239.39,256.88L239.56,257.40L239.74,257.91L239.92,258.39L240.10,258.87L240.27,259.32L240.45,259.76L240.63,260.19L240.81,260.60L240.98,261.00L241.16,261.38L241.34,261.75L241.52,262.11L241.69,262.46L241.87,262.79L242.05,263.11L242.23,263.43L242.40,263.73L242.58,264.02L242.76,264.30L242.94,264.58L243.11,264.84L243.29,265.09L243.47,265.34L243.65,265.58L243.83,265.81L244.00,266.03L244.18,266.24L244.36,266.45L244.54,266.65L244.71,266.84L244.89,267.03L245.07,267.21L245.25,267.39L245.42,267.56L245.60,267.72L245.78,267.88L245.96,268.03L246.13,268.18L246.31,268.32L246.49,268.46L246.67,268.59L246.84,268.72L247.02,268.84L247.20,268.96L247.38,269.08L247.55,269.19L247.73,269.30L247.91,269.40L248.09,269.50L248.27,269.60L248.44,269.69L248.62,269.78L248.80,269.87L248.98,269.96L249.15,270.04L249.33,270.12L249.51,270.20L249.69,270.27L249.86,270.34L250.04,270.41L250.22,270.48L250.40,270.54L250.57,270.61L250.75,270.67L250.93,270.72L251.11,270.78L251.28,270.84L251.46,270.89L251.64,270.94L251.82,270.99L251.99,271.04L252.17,271.08L252.35,271.13L252.53,271.17L252.71,271.21L252.88,271.25L253.06,271.29L253.24,271.33L253.42,271.36L253.59,271.40L253.77,271.43L253.95,271.46L254.13,271.50L254.30,271.53L254.48,271.56L254.66,271.58L254.84,271.61L255.01,271.64L255.19,271.66L255.37,271.69L255.55,271.71L255.72,271.74L255.90,271.76L256.08,271.78L256.26,271.80L256.43,271.82L256.61,271.84L256.79,271.86L256.97,271.88L257.15,271.89L257.32,271.91L257.50,271.93L257.68,271.94L257.86,271.96L258.03,271.97L258.21,271.99L258.39,272.00L258.57,272.02L258.74,272.03L258.92,272.04L259.10,272.05L259.28,272.06L259.45,272.08L259.63,272.09L259.81,272.10L259.99,272.11L260.16,272.12L260.34,272.13L260.52,272.14L260.70,272.15L260.88,272.15L262.19,272.21L263.51,272.25L264.83,272.29L266.15,272.31L267.47,272.33L268.78,272.35L270.10,272.36L271.42,272.37L272.74,272.38L274.06,272.38L275.38,272.38L276.69,272.39L278.01,272.39L279.33,272.39L280.65,272.39L281.97,272.40L283.28,272.40L284.60,272.40L285.92,272.40L287.24,272.40L288.56,272.40L289.88,272.40L291.19,272.40L292.51,272.40L293.83,272.40L295.15,272.40L296.47,272.40L297.79,272.40L299.10,272.40L300.42,272.40L301.74,272.40L303.06,272.40L304.38,272.40L305.69,272.40L307.01,272.40L308.33,272.40L309.65,272.40L310.97,272.40L312.29,272.40L313.60,272.40L314.92,272.40L316.24,272.40L317.56,272.40L318.88,272.40L320.20,272.40L321.51,272.40L322.83,272.40L324.15,272.40L325.47,272.40L326.79,272.40L328.10,272.40L329.42,272.40L330.74,272.40L332.06,272.40L333.38,272.40L334.70,272.40L336.01,272.40L337.33,272.40L338.65,272.40L339.97,272.40L341.29,272.40L342.61,272.40L343.92,272.40L345.24,272.40L346.56,272.40L347.88,272.40L349.20,272.40L350.51,272.40L351.83,272.40L353.15,272.40L354.47,272.40L355.79,272.40L357.11,272.40L358.42,272.40L359.74,272.40L361.06,272.40L362.38,272.40L363.70,272.40L365.02,272.40L366.33,272.40L367.65,272.40L368.97,272.40L370.29,272.40L371.61,272.40L372.92,272.40L374.24,272.40L375.56,272.40L376.88,272.40L378.20,272.40L379.52,272.40L380.83,272.40L382.15,272.40L383.47,272.40L384.79,272.40L386.11,272.40L387.42,272.40L388.74,272.40L390.06,272.40L391.38,272.40L392.70,272.40L394.02,272.40L395.33,272.40L396.65,272.40L397.97,272.40L399.29,272.40L400.61,272.40L401.93,272.40L403.24,272.40L404.56,272.40L405.88,272.40L407.20,272.40L408.52,272.40L409.83,272.40L411.15,272.40L412.47,272.40L413.79,272.40L415.11,272.40L416.43,272.40L417.74,272.40L419.06,272.40L420.38,272.40L421.70,272.40L423.02,272.40L424.34,272.40L425.65,272.40L426.97,272.40L428.29,272.40L429.61,272.40L430.93,272.40L432.24,272.40L433.56,272.40L434.88,272.40L436.20,272.40L437.52,272.40L438.84,272.40L440.15,272.40L441.47,272.40L442.79,272.40L444.11,272.40L445.43,272.40L446.75,272.40L448.06,272.40L449.38,272.40L450.70,272.40L452.02,272.40L453.34,272.40L454.65,272.40L455.97,272.40L457.29,272.40L458.61,272.40L459.93,272.40L461.25,272.40L462.56,272.40L463.88,272.40L465.20,272.40L466.52,272.40L467.84,272.40L469.16,272.40L470.47,272.40L471.79,272.40L473.11,272.40L474.43,272.40L475.75,272.40L477.06,272.40L478.38,272.40L479.70,272.40L481.02,272.40L482.34,272.40L483.66,272.40L484.97,272.40L486.29,272.40L487.61,272.40L488.93,272.40L490.25,272.40L491.57,272.40L492.88,272.40L494.20,272.40L495.52,272.40L496.84,272.40" fill="none" stroke="#000000" stroke-width="1.9" stroke-dasharray="5.4 2.43" stroke-dashoffset="0.18" stroke-linejoin="round"/>
<rect x="62.75" y="178.6" width="112.05" height="94.25" fill="#ffffff" stroke="#000" stroke-width="1.7"/>
<path d="M72,195.7H111.6" stroke="#0000ff" stroke-width="1.75"/>
<path d="M71.9,217.1H109.4" stroke="#ff0000" stroke-width="1.75" stroke-dasharray="2.9 1.97"/>
<path d="M72,237.1H111.5" stroke="#ff0000" stroke-width="1.75"/>
<path d="M72,257.1H109" stroke="#ff0000" stroke-width="1.75" stroke-dasharray="5.4 2.38"/>
<g style="filter:grayscale(1)">
<g stroke="#000" stroke-width="0.2">
<text transform="translate(62.24,291.20) scale(0.995,1) rotate(0.03)" font-family="Liberation Sans" font-style="normal" font-size="14.50px">0</text>
<text transform="translate(191.93,291.20) scale(0.975,1) rotate(0.03)" font-family="Liberation Sans" font-style="normal" font-size="14.50px">5</text>
<text transform="translate(318.20,291.20) scale(1.074,1) rotate(0.03)" clip-path="url(#c1)" font-family="Liberation Sans" font-size="14.50px">1</text>
<text transform="translate(324.84,291.20) scale(0.981,1) rotate(0.03)" font-family="Liberation Sans" font-style="normal" font-size="14.50px">0</text>
<text transform="translate(447.70,291.20) scale(1.074,1) rotate(0.03)" clip-path="url(#c1)" font-family="Liberation Sans" font-size="14.50px">1</text>
<text transform="translate(454.42,291.20) scale(1.004,1) rotate(0.03)" font-family="Liberation Sans" font-style="normal" font-size="14.50px">5</text>
<text transform="translate(37.59,276.00) scale(0.909,1) rotate(0.03)" font-family="Liberation Sans" font-style="normal" font-size="14.50px">0</text>
<text transform="translate(43.86,276.00) scale(1.014,1) rotate(0.03)" font-family="Liberation Sans" font-style="normal" font-size="14.50px">.</text>
<text transform="translate(47.15,276.00) scale(0.967,1) rotate(0.03)" font-family="Liberation Sans" font-style="normal" font-size="14.50px">0</text>
<text transform="translate(37.59,230.30) scale(0.909,1) rotate(0.03)" font-family="Liberation Sans" font-style="normal" font-size="14.50px">0</text>
<text transform="translate(43.86,230.30) scale(1.014,1) rotate(0.03)" font-family="Liberation Sans" font-style="normal" font-size="14.50px">.</text>
<text transform="translate(46.96,230.30) scale(1.014,1) rotate(0.03)" font-family="Liberation Sans" font-style="normal" font-size="14.50px">2</text>
<text transform="translate(37.59,184.60) scale(0.909,1) rotate(0.03)" font-family="Liberation Sans" font-style="normal" font-size="14.50px">0</text>
<text transform="translate(43.86,184.60) scale(1.014,1) rotate(0.03)" font-family="Liberation Sans" font-style="normal" font-size="14.50px">.</text>
<text transform="translate(47.39,184.60) scale(0.917,1) rotate(0.03)" font-family="Liberation Sans" font-style="normal" font-size="14.50px">4</text>
<text transform="translate(37.59,138.90) scale(0.909,1) rotate(0.03)" font-family="Liberation Sans" font-style="normal" font-size="14.50px">0</text>
<text transform="translate(43.86,138.90) scale(1.014,1) rotate(0.03)" font-family="Liberation Sans" font-style="normal" font-size="14.50px">.</text>
<text transform="translate(46.96,138.90) scale(1.001,1) rotate(0.03)" font-family="Liberation Sans" font-style="normal" font-size="14.50px">6</text>
<text transform="translate(37.59,93.20) scale(0.909,1) rotate(0.03)" font-family="Liberation Sans" font-style="normal" font-size="14.50px">0</text>
<text transform="translate(43.86,93.20) scale(1.014,1) rotate(0.03)" font-family="Liberation Sans" font-style="normal" font-size="14.50px">.</text>
<text transform="translate(47.08,93.20) scale(0.985,1) rotate(0.03)" font-family="Liberation Sans" font-style="normal" font-size="14.50px">8</text>
<text transform="translate(37.32,47.50) scale(0.989,1) rotate(0.03)" clip-path="url(#c1)" font-family="Liberation Sans" font-size="14.50px">1</text>
<text transform="translate(43.86,47.50) scale(1.014,1) rotate(0.03)" font-family="Liberation Sans" font-style="normal" font-size="14.50px">.</text>
<text transform="translate(47.15,47.50) scale(0.967,1) rotate(0.03)" font-family="Liberation Sans" font-style="normal" font-size="14.50px">0</text>
</g>
<g stroke="#000" stroke-width="0.2">
<text transform="translate(116.14,197.85) scale(1.055,1) rotate(0.03)" font-family="Liberation Serif" font-style="italic" font-size="15.90px" >z</text>
<text transform="translate(122.98,200.95) scale(1.176,1) rotate(0.03)" font-family="Liberation Serif" font-style="normal" font-size="11.46px" >r</text>
<text transform="translate(127.39,201.03) scale(1.003,1) rotate(0.03)" font-family="Liberation Serif" font-style="normal" font-size="11.85px" >e</text>
<text transform="translate(133.24,199.88) scale(1.171,1) rotate(0.03)" font-family="Liberation Serif" font-style="normal" font-size="15.60px" >=</text>
<text transform="translate(143.36,198.10) scale(1.038,1) rotate(0.03)" font-family="Liberation Serif" font-style="normal" font-size="17.50px">8</text>
<text transform="translate(152.79,198.10) scale(0.919,1) rotate(0.03)" font-family="Liberation Serif" font-style="normal" font-size="17.50px">.</text>
<text transform="translate(155.08,198.10) scale(0.950,1) rotate(0.03)" font-family="Liberation Serif" font-style="normal" font-size="17.50px">5</text>
<text transform="translate(116.74,219.85) scale(0.952,1) rotate(0.03)" font-family="Liberation Serif" font-style="italic" font-size="16.76px" >λ</text>
<text transform="translate(124.13,221.66) scale(1.155,1) rotate(0.03)" font-family="Liberation Serif" font-style="normal" font-size="16.00px" >=</text>
<text transform="translate(134.20,219.90) scale(1.119,1) rotate(0.03)" font-family="Liberation Serif" font-style="normal" font-size="17.50px">0</text>
<text transform="translate(143.63,219.90) scale(0.967,1) rotate(0.03)" font-family="Liberation Serif" font-style="normal" font-size="17.50px">.</text>
<text transform="translate(147.48,219.90) scale(0.698,1) rotate(0.03)" font-family="Liberation Serif" font-style="normal" font-size="17.50px">1</text>
<text transform="translate(153.98,219.90) scale(0.950,1) rotate(0.03)" font-family="Liberation Serif" font-style="normal" font-size="17.50px">5</text>
<text transform="translate(116.74,240.05) scale(0.952,1) rotate(0.03)" font-family="Liberation Serif" font-style="italic" font-size="16.76px" >λ</text>
<text transform="translate(124.13,241.86) scale(1.155,1) rotate(0.03)" font-family="Liberation Serif" font-style="normal" font-size="16.00px" >=</text>
<text transform="translate(134.20,240.10) scale(1.119,1) rotate(0.03)" font-family="Liberation Serif" font-style="normal" font-size="17.50px">0</text>
<text transform="translate(143.63,240.10) scale(0.967,1) rotate(0.03)" font-family="Liberation Serif" font-style="normal" font-size="17.50px">.</text>
<text transform="translate(147.01,240.10) scale(0.902,1) rotate(0.03)" font-family="Liberation Serif" font-style="normal" font-size="17.50px">7</text>
<text transform="translate(154.73,240.10) scale(0.858,1) rotate(0.03)" font-family="Liberation Serif" font-style="normal" font-size="17.50px">3</text>
<text transform="translate(116.74,260.25) scale(0.952,1) rotate(0.03)" font-family="Liberation Serif" font-style="italic" font-size="16.76px" >λ</text>
<text transform="translate(124.13,262.06) scale(1.155,1) rotate(0.03)" font-family="Liberation Serif" font-style="normal" font-size="16.00px" >=</text>
<text transform="translate(133.91,260.30) scale(1.021,1) rotate(0.03)" font-family="Liberation Serif" font-style="normal" font-size="17.50px">5</text>
<text transform="translate(142.63,260.30) scale(0.967,1) rotate(0.03)" font-family="Liberation Serif" font-style="normal" font-size="17.50px">.</text>
<text transform="translate(145.93,260.30) scale(1.079,1) rotate(0.03)" font-family="Liberation Serif" font-style="normal" font-size="17.50px">0</text>
<text transform="translate(275.93,323.45) scale(1.016,1) rotate(0.03)" font-family="Liberation Serif" font-style="italic" font-size="24.40px" >z</text>
<text transform="translate(23.85,148.45) rotate(-90.03) scale(0.970,1)" font-family="Liberation Serif" font-style="italic" font-size="25.49px">x</text>
<text transform="translate(27.37,138.34) rotate(-90.03) scale(0.867,1)" font-family="Liberation Serif" font-style="italic" font-size="18.30px">e</text>
</g>
</g>
</svg>
</body></html>
